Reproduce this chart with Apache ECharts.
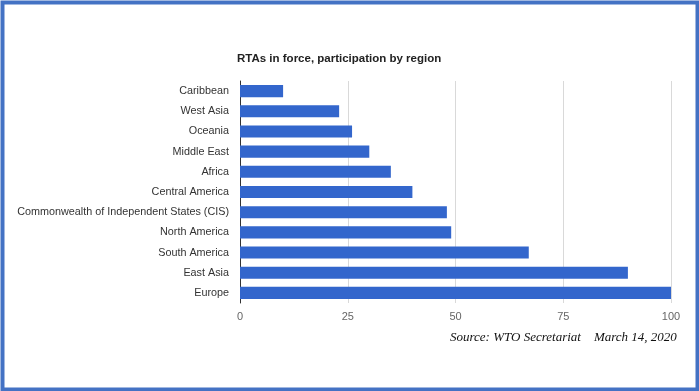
<!DOCTYPE html>
<html>
<head>
<meta charset="utf-8">
<script src="https://cdn.jsdelivr.net/npm/echarts@6/dist/echarts.min.js"></script>
<style>
html,body{margin:0;padding:0;background:#fff;}
#chart{width:699px;height:391px;}
</style>
</head>
<body>
<div id="chart"></div>
<script>
var regions = ["Caribbean","West Asia","Oceania","Middle East","Africa","Central America","Commonwealth of Independent States (CIS)","North America","South America","East Asia","Europe"];
var participation = [10,23,26,30,35,40,48,49,67,90,100];
var xTicks = [0,25,50,75,100];
var titleText = "RTAs in force, participation by region";
var sourceText = "Source: WTO Secretariat    March 14, 2020";

var chart = echarts.init(document.getElementById('chart'), null, {renderer:'canvas'});
chart.setOption({
  backgroundColor:'#ffffff',
  animation:false,
  title:{
    text:titleText,
    left:232, top:48,
    textStyle:{fontFamily:'Liberation Sans, Arial', fontSize:11.5, fontWeight:'bold', color:'#222'}
  },
  grid:{left:240, right:28, top:81, bottom:88, containLabel:false},
  xAxis:{
    type:'value', min:xTicks[0], max:xTicks[xTicks.length-1], interval:25,
    axisLine:{show:false}, axisTick:{show:false},
    splitLine:{show:true, lineStyle:{color:'#d9d9d9', width:1}},
    axisLabel:{color:'#666', fontFamily:'Liberation Sans, Arial', fontSize:11, margin:8,
      formatter:function(v){return xTicks.indexOf(v)>=0? String(v):'';}}
  },
  yAxis:{
    type:'category', data:regions, inverse:true,
    axisLine:{show:true, lineStyle:{color:'#333', width:1}},
    axisTick:{show:false},
    axisLabel:{color:'#333', fontFamily:'Liberation Sans, Arial', fontSize:10.8, margin:11}
  },
  series:[{
    type:'bar', data:participation, barWidth:'60%',
    itemStyle:{color:'#3366cc'}
  }],
  graphic:[
    {type:'rect', left:0, top:0, z:100, silent:true,
     shape:{x:2, y:2, width:695, height:387},
     style:{fill:'none', stroke:'#4472c4', lineWidth:4}},
    {type:'text', left:450, top:331, z:100,
     style:{text:sourceText, font:'italic 13px "Liberation Serif", "Times New Roman", serif', fill:'#111'}}
  ]
});
</script>
</body>
</html>
